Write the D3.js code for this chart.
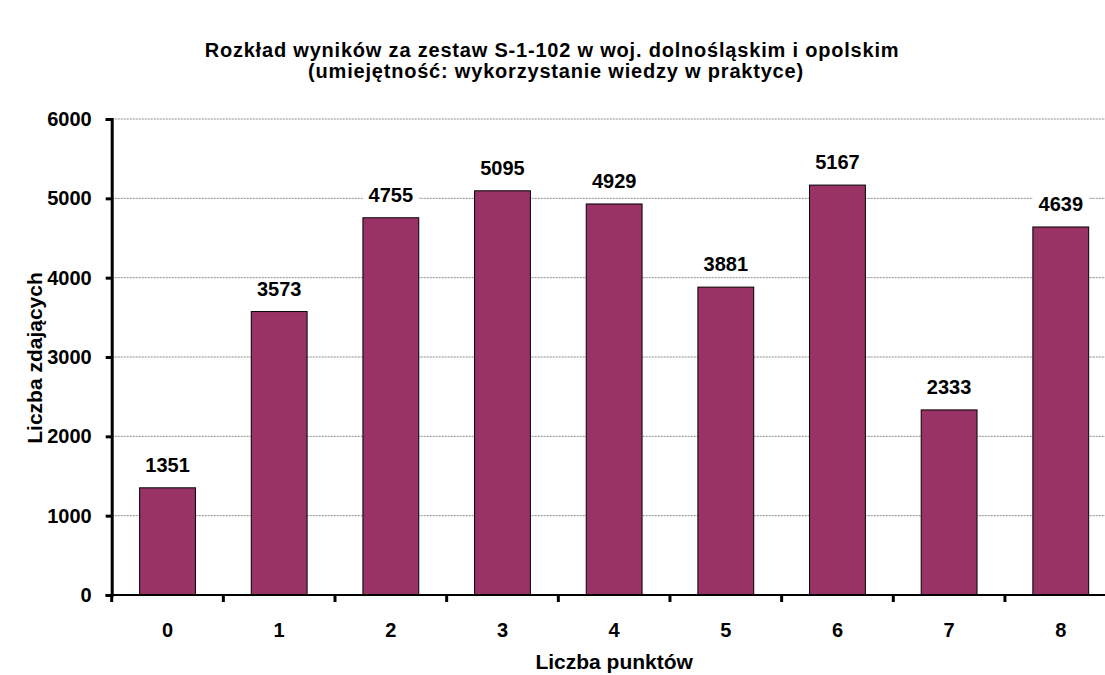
<!DOCTYPE html>
<html><head><meta charset="utf-8">
<script src="https://cdn.jsdelivr.net/npm/d3@7"></script>
<style>body{margin:0;background:#fff}svg{display:block}text{font-family:"Liberation Sans",Arial,sans-serif;font-weight:bold;fill:#000}</style>
</head><body><svg id="c" width="1105" height="675"></svg>
<script>
const categories = ["0","1","2","3","4","5","6","7","8"];
const values = [1351,3573,4755,5095,4929,3881,5167,2333,4639];
const yTicks = [0,1000,2000,3000,4000,5000,6000];
const title1 = "Rozkład wyników za zestaw S-1-102 w woj. dolnośląskim i opolskim";
const title2 = "(umiejętność: wykorzystanie wiedzy w praktyce)";
const xTitle = "Liczba punktów";
const yTitle = "Liczba zdających";

(function () {
const svg = d3.select("#c");
const pLeft = 111.7, pRight = 1116.6, pTop = 119, pBottom = 595;
const x = d3.scaleBand().domain(categories).range([pLeft, pRight]).paddingInner(0.5).paddingOuter(0.25);
const xb = d3.scaleBand().domain(categories).range([pLeft, pRight]);
const y = d3.scaleLinear().domain([0, 6000]).range([pBottom, pTop]);

// gridlines
svg.append("g").selectAll("line").data(yTicks.filter(d => d > 0)).join("line")
  .attr("x1", pLeft).attr("x2", 1105).attr("y1", d => y(d)).attr("y2", d => y(d))
  .attr("stroke", "#8a8a8a").attr("stroke-width", 1).attr("stroke-dasharray", "2,1");

// bars
svg.append("g").selectAll("rect").data(values).join("rect")
  .attr("x", (d, i) => x(categories[i])).attr("width", x.bandwidth())
  .attr("y", d => y(d)).attr("height", d => pBottom - y(d))
  .attr("fill", "#993366").attr("stroke", "#000").attr("stroke-width", 1);

// value labels with white background
const lab = svg.append("g").selectAll("g").data(values).join("g")
  .attr("transform", (d, i) => `translate(${x(categories[i]) + x.bandwidth()/2},${y(d) - 16})`);
lab.append("rect").attr("x", -28).attr("y", -16).attr("width", 56).attr("height", 21).attr("fill", "#fff");
lab.append("text").attr("text-anchor", "middle").attr("font-size", 20).text(d => d);

// y axis
const ya = svg.append("g").attr("transform", `translate(${pLeft},0)`)
  .call(d3.axisLeft(y).tickValues(yTicks).tickSize(6).tickPadding(14).tickFormat(d3.format("d")));
ya.select(".domain").attr("stroke", "#000").attr("stroke-width", 3);
ya.selectAll(".tick line").attr("stroke", "#000").attr("stroke-width", 3);
ya.selectAll(".tick text").attr("font-size", 20).attr("font-family", "Liberation Sans, Arial, sans-serif").attr("font-weight", "bold").attr("fill", "#000");

// x axis
const xa = svg.append("g").attr("transform", `translate(0,${pBottom})`);
xa.append("line").attr("x1", pLeft - 6).attr("x2", 1105).attr("y1", 0).attr("y2", 0).attr("stroke", "#000").attr("stroke-width", 2);
const bounds = categories.map(c => xb(c)).concat([xb(categories[categories.length-1]) + xb.bandwidth()]).filter(v => v < 1105);
xa.selectAll("line.t").data(bounds).join("line").attr("class", "t")
  .attr("x1", d => d).attr("x2", d => d).attr("y1", 0).attr("y2", 7).attr("stroke", "#000").attr("stroke-width", 3);
xa.selectAll("text").data(categories).join("text")
  .attr("x", d => xb(d) + xb.bandwidth()/2).attr("y", 42).attr("text-anchor", "middle").attr("font-size", 20).text(d => d);

// titles
svg.append("text").attr("x", 552).attr("y", 57).attr("text-anchor", "middle").attr("font-size", 20).attr("letter-spacing", 0.8).text(title1);
svg.append("text").attr("x", 556).attr("y", 78).attr("text-anchor", "middle").attr("font-size", 20).attr("letter-spacing", 0.8).text(title2);
svg.append("text").attr("x", (pLeft + pRight) / 2).attr("y", 669).attr("text-anchor", "middle").attr("font-size", 21).text(xTitle);
svg.append("text").attr("transform", "translate(42,358) rotate(-90)").attr("text-anchor", "middle").attr("font-size", 21).text(yTitle);
})();
</script></body></html>
